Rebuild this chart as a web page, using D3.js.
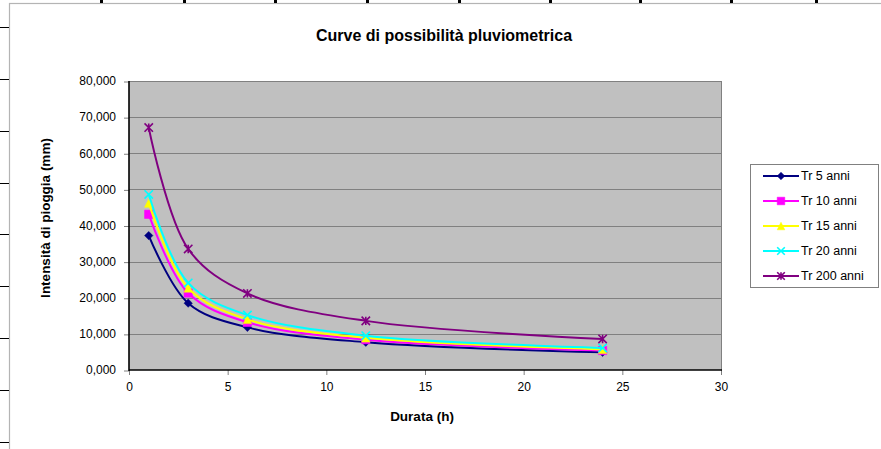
<!DOCTYPE html>
<html>
<head>
<meta charset="utf-8">
<script src="https://cdn.jsdelivr.net/npm/d3@7"></script>
<style>
  body { margin: 0; background: #fff; overflow: hidden; }
  svg { display: block; }
  text { font-family: Arial, "Liberation Sans", sans-serif; fill: #000; }
</style>
</head>
<body>
<div id="chart"></div>
<script>
// durata (h) and intensita' per return period
const durations = [1, 3, 6, 12, 24];
const tr5   = [37.2, 18.5, 11.8, 7.7, 4.9];
const tr10  = [43.1, 21.3, 13.2, 8.4, 5.4];
const tr15  = [46.2, 22.7, 14.0, 8.9, 5.7];
const tr20  = [48.6, 24.1, 15.2, 9.5, 6.1];
const tr200 = [67.1, 33.5, 21.2, 13.6, 8.6];
const seriesNames = ['Tr 5 anni', 'Tr 10 anni', 'Tr 15 anni', 'Tr 20 anni', 'Tr 200 anni'];
const yTicks = [0, 10, 20, 30, 40, 50, 60, 70, 80];
const xTicks = [0, 5, 10, 15, 20, 25, 30];

const W = 881, H = 449;
const plot = { left: 129, right: 721, top: 81, bottom: 370 };

const colors = ['#000080', '#ff00ff', '#ffff00', '#00ffff', '#800080'];
const shapes = ['diamond', 'square', 'triangle', 'cross', 'star'];

// italian number format, 80,000
const itFmt = d3.formatLocale({ decimal: ',', thousands: '.', grouping: [3], currency: ['', '€'] }).format('.3f');

const svg = d3.select('#chart').append('svg')
  .attr('width', W).attr('height', H);

// chart frame (the sheet around it is white)
svg.append('rect')
  .attr('x', 9.5).attr('y', 3.5).attr('width', W + 10).attr('height', H + 10)
  .attr('fill', '#fff').attr('stroke', '#b4b4b4').attr('stroke-width', 1.2);

// spreadsheet cell edges peeking out around the chart object
const colEdges = [101, 184, 275, 367, 459, 550, 640, 731, 816];
const rowEdges = [27, 79, 131, 183, 234, 286, 338, 390, 442];
svg.append('g').selectAll('rect').data(colEdges).enter().append('rect')
  .attr('x', d => d - 1.5).attr('y', 0).attr('width', 3).attr('height', 3)
  .attr('fill', '#000').attr('shape-rendering', 'crispEdges');
svg.append('g').selectAll('line').data(rowEdges).enter().append('line')
  .attr('x1', 0).attr('x2', 9).attr('y1', d => d + 0.5).attr('y2', d => d + 0.5)
  .attr('stroke', '#000');

// scales
const x = d3.scaleLinear().domain([0, 30]).range([plot.left, plot.right]);
const y = d3.scaleLinear().domain([0, 80]).range([plot.bottom, plot.top]);

// plot area
svg.append('rect')
  .attr('x', plot.left).attr('y', plot.top)
  .attr('width', plot.right - plot.left).attr('height', plot.bottom - plot.top)
  .attr('fill', '#c0c0c0');

// gridlines
svg.append('g').selectAll('line').data(yTicks.slice(1)).enter().append('line')
  .attr('x1', plot.left).attr('x2', plot.right)
  .attr('y1', d => Math.round(y(d)) + 0.5).attr('y2', d => Math.round(y(d)) + 0.5)
  .attr('stroke', '#808080');
svg.append('line')
  .attr('x1', plot.right + 0.5).attr('x2', plot.right + 0.5)
  .attr('y1', plot.top).attr('y2', plot.bottom)
  .attr('stroke', '#808080');

// axes
const yAxis = d3.axisLeft(y).tickValues(yTicks).tickFormat(itFmt).tickSize(5).tickPadding(8);
const xAxis = d3.axisBottom(x).tickValues(xTicks).tickSize(5).tickPadding(7);

const gy = svg.append('g').attr('transform', `translate(${plot.left},0)`).call(yAxis);
const gx = svg.append('g').attr('transform', `translate(0,${plot.bottom})`).call(xAxis);
[gy, gx].forEach(g => {
  g.select('.domain').remove();
  g.selectAll('.tick line').attr('stroke', '#808080');
  g.selectAll('.tick text').style('font-size', '12px').attr('fill', '#000');
});
gy.selectAll('.tick line').attr('transform', 'translate(0,0.5)');

svg.append('line')
  .attr('x1', plot.left).attr('x2', plot.left)
  .attr('y1', plot.top).attr('y2', plot.bottom + 1)
  .attr('stroke', '#000').attr('stroke-width', 1.6);
svg.append('line')
  .attr('x1', plot.left).attr('x2', plot.right + 1)
  .attr('y1', plot.bottom).attr('y2', plot.bottom)
  .attr('stroke', '#000').attr('stroke-width', 1.6);

// marker shapes (r = half size)
function markerPath(shape, r) {
  switch (shape) {
    case 'diamond': return `M0,${-r}L${r},0L0,${r}L${-r},0Z`;
    case 'square': return `M${-r},${-r}H${r}V${r}H${-r}Z`;
    case 'triangle': return `M0,${-r}L${r},${r}H${-r}Z`;
    case 'cross': return `M${-r},${-r}L${r},${r}M${r},${-r}L${-r},${r}`;
    case 'star': return `M${-r},${-r}L${r},${r}M${r},${-r}L${-r},${r}M0,${-r}V${r}`;
  }
}
function drawMarker(g, i, r) {
  const open = shapes[i] === 'cross' || shapes[i] === 'star';
  g.append('path')
    .attr('d', markerPath(shapes[i], r))
    .attr('fill', open ? 'none' : colors[i])
    .attr('stroke', colors[i])
    .attr('stroke-width', open ? 1.6 : 0.5);
}

const allSeries = [tr5, tr10, tr15, tr20, tr200].map((vals, i) => ({
  name: seriesNames[i],
  points: durations.map((d, j) => ({ d: d, v: vals[j] }))
}));

const line = d3.line()
  .x(p => x(p.d))
  .y(p => y(p.v))
  .curve(d3.curveCatmullRom.alpha(0.5));

const series = svg.append('g').selectAll('g').data(allSeries).enter().append('g');
series.append('path')
  .attr('d', s => line(s.points))
  .attr('fill', 'none')
  .attr('stroke', (s, i) => colors[i])
  .attr('stroke-width', 2);
series.each(function(s, i) {
  const g = d3.select(this);
  s.points.forEach(p => {
    drawMarker(g.append('g').attr('transform', `translate(${x(p.d)},${y(p.v)})`), i, 4.2);
  });
});

// titles
svg.append('text')
  .attr('x', 444).attr('y', 41).attr('text-anchor', 'middle')
  .style('font-size', '16px').style('font-weight', 'bold')
  .text('Curve di possibilità pluviometrica');
svg.append('text')
  .attr('x', 422).attr('y', 421).attr('text-anchor', 'middle')
  .style('font-size', '13.5px').style('font-weight', 'bold')
  .text('Durata (h)');
svg.append('text')
  .attr('transform', 'translate(50,218) rotate(-90)').attr('text-anchor', 'middle')
  .style('font-size', '13.5px').style('font-weight', 'bold')
  .text('Intensità di pioggia (mm)');

// legend
const legend = svg.append('g');
legend.append('rect')
  .attr('x', 750.5).attr('y', 164.5).attr('width', 128).attr('height', 123)
  .attr('fill', '#fff').attr('stroke', '#808080');
const item = legend.selectAll('g.item').data(allSeries).enter().append('g')
  .attr('transform', (s, i) => `translate(0,${176 + i * 25})`);
item.append('line')
  .attr('x1', 763).attr('x2', 799).attr('y1', 0).attr('y2', 0)
  .attr('stroke', (s, i) => colors[i]).attr('stroke-width', 2);
item.each(function(s, i) {
  drawMarker(d3.select(this).append('g').attr('transform', 'translate(781,0)'), i, 3.8);
});
item.append('text')
  .attr('x', 801).attr('y', 0).attr('dy', '0.35em')
  .style('font-size', '12.5px')
  .text(s => s.name);
</script>
</body>
</html>
